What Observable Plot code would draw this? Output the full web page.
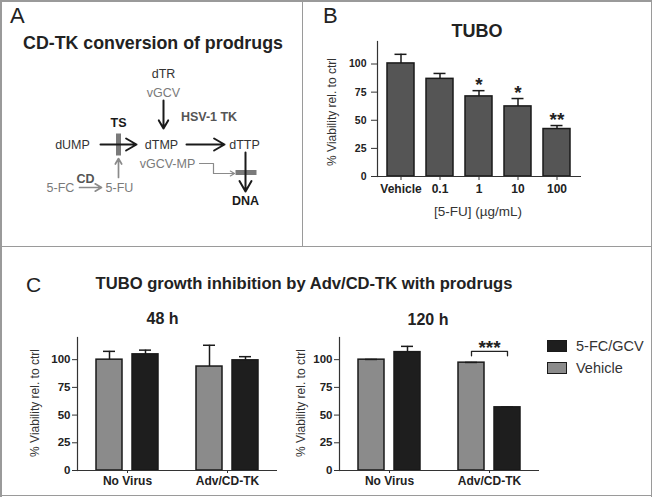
<!DOCTYPE html>
<html><head><meta charset="utf-8">
<script src="https://cdn.jsdelivr.net/npm/d3@7"></script>
<script src="https://cdn.jsdelivr.net/npm/@observablehq/plot@0.6"></script>
<style>
body{margin:0;background:#fff;}
#fig{position:relative;width:652px;height:497px;font-family:"Liberation Sans",Arial,sans-serif;color:#222;overflow:hidden;background:#fff;}
.abs{position:absolute;line-height:1;white-space:nowrap;}
.ctr{transform:translateX(-50%);}
.rot{transform:translate(-50%,-50%) rotate(-90deg);font-size:12px;color:#333;}
.rule{position:absolute;background:#9a9a9a;}
.plot{position:absolute;}
#fig svg g[aria-label$="tick label"] text{font-weight:bold;}
</style></head><body><div id="fig"></div>
<script>
const FONT = '"Liberation Sans", Arial, sans-serif';

// ---------- Panel A (diagram) ----------
const diagramNodes = [
  {label:"dTR", x:163, y:73, kind:"dark"},
  {label:"vGCV", x:163, y:92, kind:"gray"},
  {label:"HSV-1 TK", x:208.5, y:116, kind:"boldgray"},
  {label:"TS", x:118, y:122, kind:"bold"},
  {label:"dUMP", x:72, y:144, kind:"dark"},
  {label:"dTMP", x:161, y:144, kind:"dark"},
  {label:"dTTP", x:244, y:144, kind:"dark"},
  {label:"vGCV-MP", x:167, y:163, kind:"gray"},
  {label:"DNA", x:245, y:200, kind:"bold"},
  {label:"5-FC", x:60, y:187, kind:"gray"},
  {label:"CD", x:85, y:178, kind:"boldgray"},
  {label:"5-FU", x:119, y:187, kind:"gray"}
];
const blackArrows = [
  {x1:163, y1:100, x2:163, y2:128},
  {x1:100, y1:144, x2:136, y2:144},
  {x1:186, y1:144, x2:224, y2:144},
  {x1:245, y1:152, x2:245, y2:191}
];
const grayArrows = [
  {x1:118, y1:177, x2:118, y2:158},
  {x1:79, y1:187, x2:101, y2:187}
];
const elbowPath = [{x:199, y:163}, {x:213, y:163}, {x:213, y:173}];
const elbowArrow = [{x1:213, y1:173, x2:234, y2:173}];
const inhibitors = [
  {x1:118, y1:133, x2:118, y2:155},
  {x1:235, y1:172, x2:256, y2:172}
];

// ---------- Panel B data ----------
const doses = ["Vehicle", "0.1", "1", "10", "100"];
const viabilityB = [100.5, 86.8, 71.2, 62.3, 42.2];
const upperB = [108.6, 91.6, 76.3, 69.3, 45.3];
const starsB = ["", "", "*", "*", "**"];
const yTicks = [0, 25, 50, 75, 100];

// ---------- Panel C data ----------
const groups = ["No Virus", "Adv/CD-TK"];
const treatments = ["Vehicle", "5-FC/GCV"];
const colorsC = ["#8b8b8b", "#1e1e1e"];
const legendOrder = ["5-FC/GCV", "Vehicle"];
// order: NoVirus-Vehicle, NoVirus-5FC, Adv-Vehicle, Adv-5FC
const viab48 = [100, 104.8, 93.8, 99.4];
const upper48 = [107.5, 108.6, 113, 102.7];
const viab120 = [100, 106.8, 97.3, 57];
const upper120 = [100.2, 112, 97.5, 57.2];
const bracket120 = [
  {group:"Adv/CD-TK", treat:"Vehicle", y:103.5},
  {group:"Adv/CD-TK", treat:"Vehicle", y:107.5},
  {group:"Adv/CD-TK", treat:"5-FC/GCV", y:107.5},
  {group:"Adv/CD-TK", treat:"5-FC/GCV", y:103.5}
];
const sig120 = [{group:"Adv/CD-TK", y:110.5, label:"***"}];

const fig = document.getElementById("fig");
function addText(txt, left, top, size, opts = {}) {
  const d = document.createElement("div");
  d.className = "abs" + (opts.center ? " ctr" : "") + (opts.rot ? " rot" : "");
  d.textContent = txt;
  d.style.left = left + "px"; d.style.top = top + "px";
  if (size) d.style.fontSize = size + "px";
  if (opts.bold) d.style.fontWeight = "bold";
  if (opts.color) d.style.color = opts.color;
  fig.appendChild(d);
  return d;
}
function addPlot(svg, left, top) {
  svg.classList.add("plot");
  svg.style.left = left + "px"; svg.style.top = top + "px";
  fig.appendChild(svg);
}
const baseStyle = {fontFamily: FONT, background: "transparent", color: "#222", overflow: "visible"};

// Panel A plot
const textKinds = {
  dark: {fill:"#333", fontWeight:"normal"},
  gray: {fill:"#7a7a7a", fontWeight:"normal"},
  bold: {fill:"#1a1a1a", fontWeight:"bold"},
  boldgray: {fill:"#555", fontWeight:"bold"}
};
const plotA = Plot.plot({
  width: 303, height: 247, margin: 0,
  x: {domain: [0, 303], range: [0, 303], axis: null},
  y: {domain: [0, 247], range: [0, 247], axis: null},
  style: baseStyle,
  marks: [
    Plot.link(inhibitors, {x1:"x1", y1:"y1", x2:"x2", y2:"y2", stroke:"#7a7a7a", strokeWidth:5}),
    Plot.arrow(blackArrows, {x1:"x1", y1:"y1", x2:"x2", y2:"y2", stroke:"#1a1a1a", strokeWidth:2, headLength:9}),
    Plot.arrow(grayArrows, {x1:"x1", y1:"y1", x2:"x2", y2:"y2", stroke:"#8a8a8a", strokeWidth:1.7, headLength:7}),
    Plot.line(elbowPath, {x:"x", y:"y", stroke:"#8a8a8a", strokeWidth:1.2}),
    Plot.arrow(elbowArrow, {x1:"x1", y1:"y1", x2:"x2", y2:"y2", stroke:"#8a8a8a", strokeWidth:1.2, headLength:6}),
    ...Object.entries(textKinds).map(([k, s]) =>
      Plot.text(diagramNodes.filter(d => d.kind === k), {x:"x", y:"y", text:"label", fontSize:12.5, fill:s.fill, fontWeight:s.fontWeight}))
  ]
});
addPlot(plotA, 0, 0);

// Panel B plot
const dataB = doses.map((d, i) => ({dose:d, v:viabilityB[i], up:upperB[i], star:starsB[i]}));
const plotB = Plot.plot({
  width: 272, height: 236, marginLeft: 67, marginRight: 1, marginTop: 41, marginBottom: 60,
  style: baseStyle,
  x: {domain: doses, paddingInner: 0.3, paddingOuter: 0.2},
  y: {domain: [0, 120]},
  marks: [
    Plot.barY(dataB, {x:"dose", y:"v", fill:"#555", stroke:"#1a1a1a", strokeWidth:1.5}),
    Plot.ruleX(dataB, {x:"dose", y1:"v", y2:"up", stroke:"#1a1a1a", strokeWidth:1.5}),
    Plot.tickY(dataB, {x:"dose", y:"up", stroke:"#1a1a1a", strokeWidth:1.5, insetLeft:7.5, insetRight:7.5}),
    Plot.text(dataB, {x:"dose", y:"up", text:"star", dy:-5.5, fontSize:19, fontWeight:"bold", fill:"#222"}),
    Plot.ruleY([0], {stroke:"#333", strokeWidth:1.2}),
    Plot.frame({anchor:"left", stroke:"#333", strokeWidth:1.2}),
    Plot.axisX({tickSize:4, tickPadding:4, fontSize:12, fontWeight:"bold", label:null, stroke:"#333"}),
    Plot.axisY({ticks:yTicks, tickSize:6, tickPadding:5, fontSize:10.5, fontWeight:"bold", label:null, stroke:"#333"})
  ]
});
addPlot(plotB, 310, 0);

// Panel C charts
function chartC(values, uppers, extra) {
  const data = [];
  groups.forEach((g, gi) => treatments.forEach((t, ti) => {
    const i = gi * 2 + ti;
    data.push({group:g, treat:t, v:values[i], up:uppers[i]});
  }));
  return Plot.plot({
    width: 280, height: 197, marginLeft: 76, marginRight: 3, marginTop: 37, marginBottom: 27,
    style: baseStyle,
    fx: {domain: groups, padding: 0},
    x: {domain: treatments, paddingInner: 0.29, paddingOuter: 0.515, axis: null},
    y: {domain: [0, 120]},
    color: {domain: treatments, range: colorsC},
    marks: [
      Plot.barY(data, {fx:"group", x:"treat", y:"v", fill:"treat", stroke:"#1a1a1a", strokeWidth:1.5}),
      Plot.ruleX(data, {fx:"group", x:"treat", y1:"v", y2:"up", stroke:"#1a1a1a", strokeWidth:1.5}),
      Plot.tickY(data, {fx:"group", x:"treat", y:"up", stroke:"#1a1a1a", strokeWidth:1.5, insetLeft:7, insetRight:7}),
      Plot.ruleY([0], {stroke:"#333", strokeWidth:1.2}),
      Plot.frame({anchor:"left", facetAnchor:"left", stroke:"#333", strokeWidth:1.2}),
      Plot.axisY({ticks:yTicks, tickSize:5, tickPadding:2, fontSize:11.5, fontWeight:"bold", label:null, stroke:"#333"}),
      Plot.axisFx({anchor:"bottom", tickSize:3, tickPadding:3, fontSize:12, fontWeight:"bold", label:null, stroke:"#333"}),
      ...extra
    ]
  });
}
addPlot(chartC(viab48, upper48, []), 0, 300);
addPlot(chartC(viab120, upper120, [
  Plot.line(bracket120, {fx:"group", x:"treat", y:"y", stroke:"#222", strokeWidth:1.3}),
  Plot.text(sig120, {fx:"group", y:"y", text:"label", fontSize:19, fontWeight:"bold", fill:"#222"})
]), 262, 300);

// Texts
addText("A", 10, 5, 22);
addText("B", 323, 5, 22);
addText("C", 26, 274, 21);
addText("CD-TK conversion of prodrugs", 153, 35, 17.8, {center:true, bold:true});
addText("TUBO", 477, 22, 18, {center:true, bold:true});
addText("TUBO growth inhibition by Adv/CD-TK with prodrugs", 304, 275.5, 16.6, {center:true, bold:true});
addText("48 h", 162.5, 311, 16, {center:true, bold:true});
addText("120 h", 428, 312, 16, {center:true, bold:true});
addText("[5-FU] (\u00b5g/mL)", 478, 205, 13.5, {center:true, color:"#333"});
addText("% Viability rel. to ctrl", 331.5, 111.5, 0, {rot:true});
addText("% Viability rel. to ctrl", 35, 403, 0, {rot:true});
addText("% Viability rel. to ctrl", 301, 403, 0, {rot:true});

// Legend
const legendTops = [340, 362];
legendOrder.forEach((name, i) => {
  const sw = document.createElement("div");
  sw.style.cssText = `position:absolute;left:547px;top:${legendTops[i]}px;width:18px;height:10px;border:1.5px solid #1a1a1a;background:${colorsC[treatments.indexOf(name)]};`;
  fig.appendChild(sw);
  addText(name, 576, legendTops[i] - 1, 14.5, {color:"#333"});
});

// Panel borders
[
  {l:0, t:0, w:652, h:1.5},
  {l:0, t:0, w:1.5, h:497},
  {l:650.5, t:0, w:1.5, h:497},
  {l:0, t:494.5, w:652, h:1.5},
  {l:302, t:0, w:1.3, h:247},
  {l:0, t:246, w:652, h:1.3}
].forEach(r => {
  const d = document.createElement("div");
  d.className = "rule";
  d.style.cssText += `left:${r.l}px;top:${r.t}px;width:${r.w}px;height:${r.h}px;`;
  fig.appendChild(d);
});
</script></body></html>
